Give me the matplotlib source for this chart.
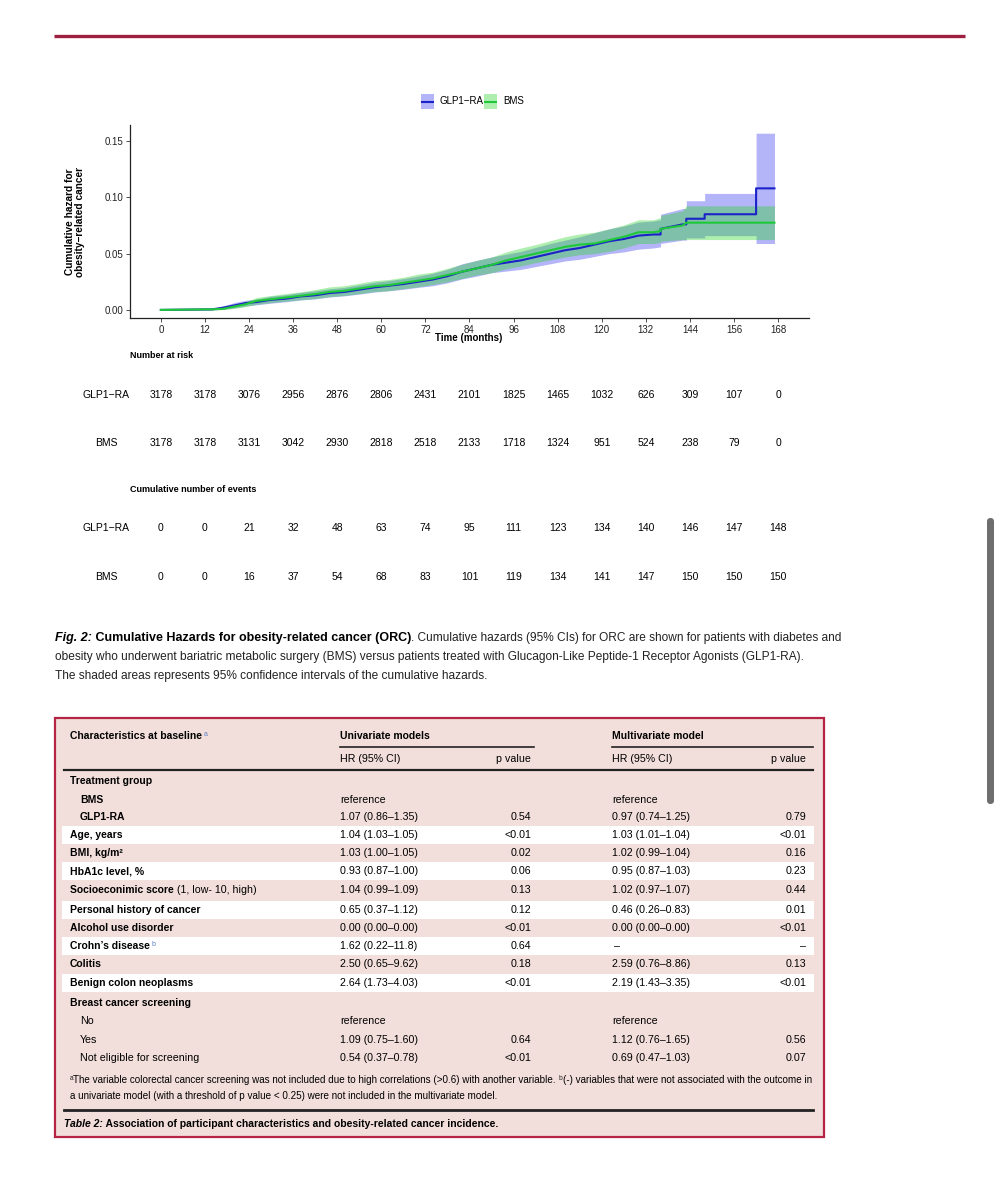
import matplotlib
matplotlib.use("Agg")
import matplotlib.pyplot as plt
from matplotlib.patches import Rectangle, FancyBboxPatch
from matplotlib.transforms import blended_transform_factory

NARROW = ['Liberation Sans Narrow', 'Liberation Sans', 'DejaVu Sans']
plt.rcParams['font.family'] = NARROW

# cumulative hazard curves; repeated months mark the big late steps
months = [0, 14, 17, 20, 23, 26, 30, 34, 38, 42, 46, 50, 54, 58, 62, 66, 70, 74, 78, 82,
          86, 90, 94, 98, 102, 106, 110, 114, 118, 122, 126, 130,
          134, 136, 136, 142, 143, 143, 148, 148, 162, 162, 167]
glp1_est = [0, 0.0005, 0.002, 0.004, 0.006, 0.007, 0.009, 0.010, 0.012, 0.013,
            0.015, 0.016, 0.018, 0.020, 0.0215, 0.023, 0.025, 0.027, 0.030, 0.034,
            0.037, 0.040, 0.042, 0.044, 0.047, 0.050, 0.053, 0.055, 0.058, 0.061,
            0.063, 0.066,
            0.067, 0.067, 0.072, 0.076, 0.076, 0.081, 0.081, 0.085, 0.085, 0.108, 0.108]
glp1_lo = [0, 0, 0.0005, 0.0018, 0.0035, 0.0045, 0.006, 0.0072, 0.0088, 0.0098,
           0.0115, 0.0125, 0.014, 0.0158, 0.017, 0.0183, 0.020, 0.0215, 0.024, 0.0275,
           0.030, 0.033, 0.0345, 0.036, 0.0385, 0.041, 0.0435, 0.045, 0.0475, 0.050,
           0.0515, 0.054,
           0.055, 0.056, 0.059, 0.062, 0.062, 0.064, 0.064, 0.066, 0.066, 0.059, 0.059]
glp1_hi = [0, 0.001, 0.0035, 0.0065, 0.0085, 0.0095, 0.0122, 0.0135, 0.0155, 0.017,
           0.0188, 0.020, 0.0222, 0.0245, 0.026, 0.0278, 0.030, 0.0325, 0.036, 0.041,
           0.044, 0.047, 0.0495, 0.052, 0.0555, 0.059, 0.062, 0.065, 0.0685, 0.072,
           0.0745, 0.078,
           0.079, 0.080, 0.085, 0.090, 0.090, 0.097, 0.097, 0.1035, 0.1035, 0.157, 0.157]
bms_est = [0, 0.0005, 0.001, 0.003, 0.005, 0.008, 0.0095, 0.011, 0.0125, 0.014,
           0.016, 0.017, 0.019, 0.021, 0.022, 0.024, 0.026, 0.028, 0.031, 0.034,
           0.037, 0.040, 0.044, 0.047, 0.050, 0.053, 0.056, 0.058, 0.059, 0.062,
           0.065, 0.069,
           0.069, 0.070, 0.072, 0.075, 0.0775, 0.0775, 0.0775, 0.0775, 0.0775, 0.0775, 0.0775]
bms_lo = [0, 0, 0.0003, 0.0013, 0.0028, 0.005, 0.0065, 0.0078, 0.009, 0.010,
          0.0118, 0.0128, 0.0145, 0.0162, 0.017, 0.0188, 0.0205, 0.0225, 0.025, 0.028,
          0.031, 0.033, 0.0365, 0.039, 0.042, 0.0445, 0.047, 0.049, 0.050, 0.052,
          0.055, 0.059,
          0.059, 0.060, 0.061, 0.0625, 0.0625, 0.0625, 0.0625, 0.0625, 0.0625, 0.0625, 0.0625]
bms_hi = [0, 0.001, 0.002, 0.0048, 0.0075, 0.011, 0.0128, 0.0145, 0.016, 0.018,
          0.0205, 0.0215, 0.0237, 0.026, 0.027, 0.029, 0.0318, 0.0335, 0.037, 0.0405,
          0.044, 0.047, 0.0515, 0.055, 0.058, 0.0615, 0.065, 0.0675, 0.069, 0.072,
          0.0755, 0.080,
          0.080, 0.082, 0.084, 0.088, 0.0925, 0.0925, 0.0925, 0.0925, 0.0925, 0.0925, 0.0925]

# risk tables
risk_times = [0, 12, 24, 36, 48, 60, 72, 84, 96, 108, 120, 132, 144, 156, 168]
glp1_risk = [3178, 3178, 3076, 2956, 2876, 2806, 2431, 2101, 1825, 1465, 1032, 626, 309, 107, 0]
bms_risk = [3178, 3178, 3131, 3042, 2930, 2818, 2518, 2133, 1718, 1324, 951, 524, 238, 79, 0]
glp1_events = [0, 0, 21, 32, 48, 63, 74, 95, 111, 123, 134, 140, 146, 147, 148]
bms_events = [0, 0, 16, 37, 54, 68, 83, 101, 119, 134, 141, 147, 150, 150, 150]

# table 2
row_labels = ["Treatment group", "BMS", "GLP1-RA", "Age, years", "BMI, kg/m\u00b2", "HbA1c level, %",
              "Socioeconimic score", "Personal history of cancer", "Alcohol use disorder",
              "Crohn\u2019s disease", "Colitis", "Benign colon neoplasms", "Breast cancer screening",
              "No", "Yes", "Not eligible for screening"]
uni_hr = ["", "reference", "1.07 (0.86\u20131.35)", "1.04 (1.03\u20131.05)", "1.03 (1.00\u20131.05)",
          "0.93 (0.87\u20131.00)", "1.04 (0.99\u20131.09)", "0.65 (0.37\u20131.12)", "0.00 (0.00\u20130.00)",
          "1.62 (0.22\u201311.8)", "2.50 (0.65\u20139.62)", "2.64 (1.73\u20134.03)", "", "reference",
          "1.09 (0.75\u20131.60)", "0.54 (0.37\u20130.78)"]
uni_p = ["", "", "0.54", "<0.01", "0.02", "0.06", "0.13", "0.12", "<0.01", "0.64", "0.18", "<0.01",
         "", "", "0.64", "<0.01"]
multi_hr = ["", "reference", "0.97 (0.74\u20131.25)", "1.03 (1.01\u20131.04)", "1.02 (0.99\u20131.04)",
            "0.95 (0.87\u20131.03)", "1.02 (0.97\u20131.07)", "0.46 (0.26\u20130.83)", "0.00 (0.00\u20130.00)",
            "\u2013", "2.59 (0.76\u20138.86)", "2.19 (1.43\u20133.35)", "", "reference",
            "1.12 (0.76\u20131.65)", "0.69 (0.47\u20131.03)"]
multi_p = ["", "", "0.79", "<0.01", "0.16", "0.23", "0.44", "0.01", "<0.01", "\u2013", "0.13", "<0.01",
           "", "", "0.56", "0.07"]
row_bold = [True, True, True, True, True, True, True, True, True, True, True, True, True,
            False, False, False]
row_indent = [False, True, True, False, False, False, False, False, False, False, False, False, False,
              True, True, True]
row_white = [False, False, False, True, False, True, False, True, False, True, False, True, False,
             False, False, False]
row_y = [781, 800, 817, 835, 853, 871, 890, 910, 928, 946, 964, 983, 1003, 1021, 1040, 1058]

W, H = 1003, 1200
fig = plt.figure(figsize=(W / 100, H / 100), dpi=100)
fig.patch.set_facecolor('white')

# page layer in pixel coordinates
bg = fig.add_axes([0, 0, 1, 1])
bg.set_xlim(0, W)
bg.set_ylim(H, 0)
bg.axis('off')

bg.plot([54, 965], [36, 36], color='#9e1f3f', lw=2.4, solid_capstyle='butt')
bg.add_patch(FancyBboxPatch((987, 518), 7, 286, boxstyle='round,pad=0,rounding_size=3.5',
                            facecolor='#6e6e6e', edgecolor='none'))

# ---- cumulative hazard plot ----
left, right, top, bottom = 130, 809, 125, 318
ax = fig.add_axes([left / W, 1 - bottom / H, (right - left) / W, (bottom - top) / H])
ax.fill_between(months, glp1_lo, glp1_hi, color='#3b3bef', alpha=0.38, lw=0)
ax.fill_between(months, bms_lo, bms_hi, color='#2bd42b', alpha=0.38, lw=0)
ax.plot(months, glp1_est, color='#1a22c8', lw=1.5)
ax.plot(months, bms_est, color='#1ec83a', lw=1.5)
ax.set_xlim(-8.4, 176.4)
ax.set_ylim(-0.0072, 0.1643)
ax.set_xticks(risk_times)
ax.set_yticks([0, 0.05, 0.10, 0.15])
ax.set_yticklabels(['0.00', '0.05', '0.10', '0.15'])
ax.tick_params(labelsize=7, length=3, width=0.6, color='#333333', labelcolor='#222222', pad=2)
for s in ['top', 'right']:
    ax.spines[s].set_visible(False)
for s in ['left', 'bottom']:
    ax.spines[s].set_linewidth(0.9)
    ax.spines[s].set_color('#222222')
ax.set_facecolor('none')

bg.text(469, 338, 'Time (months)', ha='center', va='center', fontsize=7, fontweight='bold')
bg.text(75, 222, 'Cumulative hazard for\nobesity\u2212related cancer', ha='center', va='center',
        rotation=90, fontsize=7.3, fontweight='bold', linespacing=1.0)

# legend
bg.add_patch(Rectangle((421, 94), 13, 15, facecolor='#3b3bef', alpha=0.38, lw=0))
bg.plot([422, 433], [101.5, 101.5], color='#1a22c8', lw=1.5)
bg.text(440, 101.5, 'GLP1\u2212RA', ha='left', va='center', fontsize=7)
bg.add_patch(Rectangle((484, 94), 13, 15, facecolor='#2bd42b', alpha=0.38, lw=0))
bg.plot([485, 496], [101.5, 101.5], color='#1ec83a', lw=1.5)
bg.text(503, 101.5, 'BMS', ha='left', va='center', fontsize=7)

# risk tables (x follows the plot's time axis)
tx = blended_transform_factory(ax.transData, bg.transData)
bg.text(130, 355, 'Number at risk', ha='left', va='center', fontsize=6.5, fontweight='bold')
bg.text(130, 489, 'Cumulative number of events', ha='left', va='center', fontsize=6.5, fontweight='bold')
for ypos, name, vals in [(395, 'GLP1\u2212RA', glp1_risk), (443, 'BMS', bms_risk),
                         (528, 'GLP1\u2212RA', glp1_events), (577, 'BMS', bms_events)]:
    bg.text(106, ypos, name, ha='center', va='center', fontsize=7.5)
    for t, v in zip(risk_times, vals):
        bg.text(t, ypos, str(v), transform=tx, ha='center', va='center', fontsize=7.5)

# ---- figure caption ----
cap_b, cap = 9.0, 8.6
t1 = bg.text(55, 638, 'Fig. 2:', ha='left', va='center', fontsize=cap_b, fontweight='bold', style='italic')
t2 = bg.annotate(' Cumulative Hazards for obesity-related cancer (ORC)', xy=(1, 0), xycoords=t1,
                 ha='left', va='bottom', fontsize=cap_b, fontweight='bold')
bg.annotate('. Cumulative hazards (95% CIs) for ORC are shown for patients with diabetes and',
            xy=(1, 0), xycoords=t2, ha='left', va='bottom', fontsize=cap, color='#222222')
bg.text(55, 657, 'obesity who underwent bariatric metabolic surgery (BMS) versus patients treated with '
        'Glucagon-Like Peptide-1 Receptor Agonists (GLP1-RA).', ha='left', va='center', fontsize=cap,
        color='#222222')
bg.text(55, 676, 'The shaded areas represents 95% confidence intervals of the cumulative hazards.',
        ha='left', va='center', fontsize=cap, color='#222222')

# ---- table 2 ----
bg.add_patch(Rectangle((55, 718), 769, 419, facecolor='#f2dfdb', edgecolor='#b52444', lw=1.6))
for yy, white in zip(row_y, row_white):
    if white:
        bg.add_patch(Rectangle((62, yy - 9), 752, 18, facecolor='white', edgecolor='none'))

fs, fsb = 7.7, 7.5
x_lab, x_uhr, x_up, x_mhr, x_mp = 70, 340, 531, 612, 806
h1 = bg.text(x_lab, 736, 'Characteristics at baseline', ha='left', va='center', fontsize=fsb, fontweight='bold')
bg.annotate('a', xy=(1, 1), xycoords=h1, xytext=(1, 0), textcoords='offset points',
            ha='left', va='top', fontsize=5, color='#5b7fc4')
bg.text(x_uhr, 736, 'Univariate models', ha='left', va='center', fontsize=fsb, fontweight='bold')
bg.text(x_mhr, 736, 'Multivariate model', ha='left', va='center', fontsize=fsb, fontweight='bold')
bg.plot([x_uhr, 534], [747, 747], color='#222222', lw=1.2)
bg.plot([x_mhr, 813], [747, 747], color='#222222', lw=1.2)
bg.text(x_uhr, 759, 'HR (95% CI)', ha='left', va='center', fontsize=fs)
bg.text(x_up, 759, 'p value', ha='right', va='center', fontsize=fs)
bg.text(x_mhr, 759, 'HR (95% CI)', ha='left', va='center', fontsize=fs)
bg.text(x_mp, 759, 'p value', ha='right', va='center', fontsize=fs)
bg.plot([64, 813], [770, 770], color='#222222', lw=1.6)

for i, lab in enumerate(row_labels):
    yy = row_y[i]
    xl = x_lab + (10 if row_indent[i] else 0)
    lt = bg.text(xl, yy, lab, ha='left', va='center', fontsize=fsb if row_bold[i] else fs,
                 fontweight='bold' if row_bold[i] else 'normal')
    if lab.startswith('Socioeconimic'):
        bg.annotate(' (1, low- 10, high)', xy=(1, 0), xycoords=lt, ha='left', va='bottom', fontsize=fs)
    if lab.startswith('Crohn'):
        bg.annotate('b', xy=(1, 1), xycoords=lt, xytext=(1, 0), textcoords='offset points',
                    ha='left', va='top', fontsize=5, color='#5b7fc4')
    bg.text(x_uhr, yy, uni_hr[i], ha='left', va='center', fontsize=fs)
    bg.text(x_up, yy, uni_p[i], ha='right', va='center', fontsize=fs)
    bg.text(x_mhr + (2 if multi_hr[i] == '\u2013' else 0), yy, multi_hr[i], ha='left', va='center', fontsize=fs)
    bg.text(x_mp, yy, multi_p[i], ha='right', va='center', fontsize=fs)

fn = 7.1
f1 = bg.text(73, 1080, 'The variable colorectal cancer screening was not included due to high correlations '
             '(>0.6) with another variable. ', ha='left', va='center', fontsize=fn)
bg.annotate('a', xy=(0, 1), xycoords=f1, ha='right', va='top', fontsize=4.8, color='#222222')
bg.annotate('b', xy=(1, 1), xycoords=f1, ha='left', va='top', fontsize=4.8, color='#222222')
bg.annotate('(-) variables that were not associated with the outcome in', xy=(1, 0), xycoords=f1,
            xytext=(3.3, 0), textcoords='offset points', ha='left', va='bottom', fontsize=fn)
bg.text(70, 1096, 'a univariate model (with a threshold of p value < 0.25) were not included in the '
        'multivariate model.', ha='left', va='center', fontsize=fn)
bg.plot([64, 813], [1110, 1110], color='#222222', lw=2.0)
c1 = bg.text(64, 1124, 'Table 2:', ha='left', va='center', fontsize=fsb, fontweight='bold', style='italic')
bg.annotate(' Association of participant characteristics and obesity-related cancer incidence.',
            xy=(1, 0), xycoords=c1, ha='left', va='bottom', fontsize=fsb, fontweight='bold')

fig.savefig('out.png', dpi=100)
plt.close(fig)
